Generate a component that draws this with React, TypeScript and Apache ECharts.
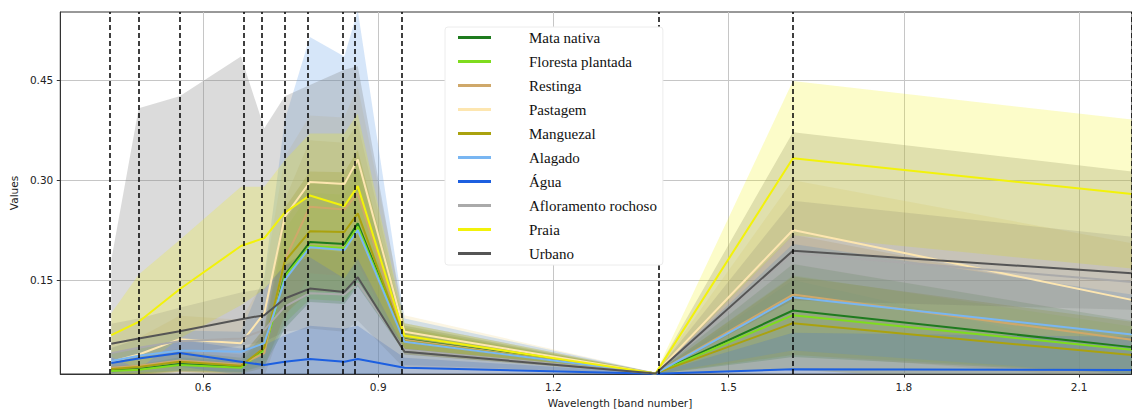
import React, { useEffect, useRef } from "react";
import * as echarts from "echarts";

// Sentinel-2 band centre wavelengths (µm)
const BANDS = [0.443, 0.49, 0.56, 0.665, 0.705, 0.74, 0.783, 0.842, 0.865, 0.945, 1.375, 1.61, 2.19];

const CLASSES = [
  "Mata nativa",
  "Floresta plantada",
  "Restinga",
  "Pastagem",
  "Manguezal",
  "Alagado",
  "Água",
  "Afloramento rochoso",
  "Praia",
  "Urbano",
];

// mean reflectance per band
const MATA_MEAN = [0.0146, 0.016, 0.0236, 0.0196, 0.046, 0.157, 0.207, 0.204, 0.235, 0.061, 0.0095, 0.104, 0.049];
const FLORESTA_MEAN = [0.013, 0.015, 0.022, 0.018, 0.044, 0.155, 0.201, 0.198, 0.23, 0.059, 0.0095, 0.097, 0.045];
const RESTINGA_MEAN = [0.018, 0.021, 0.029, 0.023, 0.04, 0.18, 0.26, 0.256, 0.28, 0.06, 0.0095, 0.128, 0.06];
const PASTAGEM_MEAN = [0.027, 0.038, 0.061, 0.055, 0.1, 0.245, 0.297, 0.294, 0.331, 0.072, 0.0095, 0.225, 0.12];
const MANGUEZAL_MEAN = [0.016, 0.019, 0.027, 0.021, 0.048, 0.178, 0.223, 0.222, 0.25, 0.058, 0.0095, 0.085, 0.037];
const ALAGADO_MEAN = [0.028, 0.036, 0.044, 0.042, 0.055, 0.15, 0.199, 0.195, 0.225, 0.057, 0.0095, 0.124, 0.068];
const AGUA_MEAN = [0.025, 0.032, 0.04, 0.027, 0.022, 0.027, 0.031, 0.027, 0.031, 0.018, 0.009, 0.0156, 0.0146];
const AFLORAMENTO_MEAN = [0.04, 0.048, 0.058, 0.062, 0.075, 0.11, 0.13, 0.128, 0.145, 0.045, 0.0095, 0.19, 0.147];
const PRAIA_MEAN = [0.067, 0.087, 0.136, 0.201, 0.213, 0.251, 0.277, 0.261, 0.291, 0.066, 0.0095, 0.333, 0.279];
const URBANO_MEAN = [0.054, 0.062, 0.073, 0.091, 0.097, 0.122, 0.137, 0.132, 0.154, 0.042, 0.0095, 0.194, 0.16];

// standard deviation per band
const MATA_STD = [0.006, 0.007, 0.01, 0.008, 0.025, 0.08, 0.09, 0.09, 0.095, 0.02, 0.001, 0.07, 0.04];
const FLORESTA_STD = [0.005, 0.006, 0.009, 0.007, 0.02, 0.07, 0.08, 0.08, 0.085, 0.018, 0.001, 0.06, 0.035];
const RESTINGA_STD = [0.012, 0.014, 0.018, 0.015, 0.035, 0.09, 0.1, 0.1, 0.105, 0.022, 0.001, 0.09, 0.06];
const PASTAGEM_STD = [0.02, 0.025, 0.035, 0.035, 0.05, 0.09, 0.1, 0.1, 0.11, 0.025, 0.001, 0.075, 0.085];
const MANGUEZAL_STD = [0.01, 0.012, 0.015, 0.012, 0.03, 0.08, 0.09, 0.09, 0.095, 0.02, 0.001, 0.07, 0.05];
const ALAGADO_STD = [0.02, 0.025, 0.03, 0.03, 0.1, 0.24, 0.316, 0.291, 0.33, 0.035, 0.001, 0.08, 0.06];
const AGUA_STD = [0.015, 0.015, 0.02, 0.02, 0.03, 0.04, 0.05, 0.05, 0.05, 0.015, 0.001, 0.055, 0.05];
const AFLORAMENTO_STD = [0.14, 0.36, 0.368, 0.424, 0.303, 0.316, 0.313, 0.338, 0.326, 0.04, 0.0015, 0.182, 0.166];
const PRAIA_STD = [0.033, 0.071, 0.074, 0.089, 0.077, 0.079, 0.093, 0.109, 0.109, 0.019, 0.001, 0.116, 0.112];
const URBANO_STD = [0.03, 0.03, 0.035, 0.04, 0.04, 0.05, 0.06, 0.06, 0.065, 0.025, 0.001, 0.075, 0.055];

const MEANS = [MATA_MEAN, FLORESTA_MEAN, RESTINGA_MEAN, PASTAGEM_MEAN, MANGUEZAL_MEAN, ALAGADO_MEAN, AGUA_MEAN, AFLORAMENTO_MEAN, PRAIA_MEAN, URBANO_MEAN];
const STDS = [MATA_STD, FLORESTA_STD, RESTINGA_STD, PASTAGEM_STD, MANGUEZAL_STD, ALAGADO_STD, AGUA_STD, AFLORAMENTO_STD, PRAIA_STD, URBANO_STD];

const X_TICKS = [0.6, 0.9, 1.2, 1.5, 1.8, 2.1];
const Y_TICKS = [0.15, 0.3, 0.45];

// styles
const LINE_COLORS = ["#1e7b1e", "#7fdc1e", "#cfa86a", "#fde6b0", "#aaa20e", "#79b6f2", "#1c5fe0", "#aaaaaa", "#f2f20a", "#555555"];
const FILL_COLORS = ["#2e8b1e", "#7fdc1e", "#cfa86a", "#f0d890", "#aaa20e", "#5f9ee8", "#3a78e0", "#7c7c7c", "#f2f20a", "#555555"];
const FILL_OPACITY = [0.3, 0.3, 0.28, 0.25, 0.32, 0.26, 0.28, 0.28, 0.22, 0.13];

const X_MIN = 0.3557;
const X_MAX = 2.1905;
const Y_MIN = 0.0086;
const Y_MAX = 0.5527;

const AXIS_FONT = "DejaVu Sans";

export default function App() {
  const ref = useRef<HTMLDivElement>(null);

  useEffect(() => {
    if (!ref.current) return;
    const chart = echarts.init(ref.current, undefined, { renderer: "svg" });

    const bandSeries = CLASSES.map((name, k) => ({
      type: "custom",
      id: "band-" + k,
      silent: true,
      clip: true,
      z: 1,
      data: [[BANDS[0], MEANS[k][0]]],
      renderItem: (params: any, api: any) => {
        const mean = MEANS[k];
        const std = STDS[k];
        const pts: number[][] = [];
        for (let i = 0; i < BANDS.length; i++) pts.push(api.coord([BANDS[i], mean[i] + std[i]]));
        for (let i = BANDS.length - 1; i >= 0; i--) pts.push(api.coord([BANDS[i], mean[i] - std[i]]));
        return {
          type: "polygon",
          shape: { points: pts },
          style: { fill: FILL_COLORS[k], opacity: FILL_OPACITY[k] },
          silent: true,
        };
      },
    }));

    const lineSeries = CLASSES.map((name, k) => ({
      type: "line",
      name,
      z: 3,
      showSymbol: false,
      symbol: "none",
      silent: true,
      color: LINE_COLORS[k],
      lineStyle: { color: LINE_COLORS[k], width: 2 },
      data: BANDS.map((b, i) => [b, MEANS[k][i]]),
    }));

    const markSeries = {
      type: "line",
      id: "band-markers",
      z: 5,
      silent: true,
      data: [],
      markLine: {
        silent: true,
        symbol: ["none", "none"],
        label: { show: false },
        lineStyle: { color: "#000", type: [5, 3], width: 1.5 },
        data: BANDS.map((b) => ({ xAxis: b })),
      },
    };

    chart.setOption({
      animation: false,
      textStyle: { fontFamily: AXIS_FONT },
      grid: {
        left: 58,
        right: 0,
        top: 12,
        bottom: 35,
        show: true,
        borderColor: "#333",
        borderWidth: 1,
        backgroundColor: "transparent",
      },
      graphic: [
        {
          type: "text",
          x: 620,
          y: 403,
          silent: true,
          style: {
            text: "Wavelength [band number]",
            fontFamily: AXIS_FONT,
            fontSize: 10.5,
            fill: "#222",
            textAlign: "center",
            textVerticalAlign: "middle",
          },
        },
      ],
      legend: {
        z: 20,
        left: 445,
        top: 27,
        orient: "vertical",
        selectedMode: false,
        icon: "rect",
        itemWidth: 33,
        itemHeight: 3,
        itemGap: 9,
        padding: [3, 6, 4, 13],
        backgroundColor: "#ffffff",
        borderColor: "#ececec",
        borderWidth: 1,
        borderRadius: 3,
        textStyle: {
          fontFamily: "Liberation Serif",
          fontSize: 15,
          lineHeight: 15,
          color: "#111",
          padding: [0, 0, 0, 33],
        },
        data: CLASSES.map((n, k) => ({ name: n, itemStyle: { color: LINE_COLORS[k] } })),
      },
      xAxis: {
        type: "value",
        min: X_MIN,
        max: X_MAX,
        axisLine: { show: true, lineStyle: { color: "#333", width: 1 } },
        axisTick: { show: true, length: 3.5, customValues: X_TICKS, lineStyle: { color: "#333" } },
        axisLabel: {
          customValues: X_TICKS,
          margin: 7,
          fontSize: 10.5,
          color: "#222",
          fontFamily: AXIS_FONT,
          formatter: (v: number) => v.toFixed(1),
        },
        splitLine: { show: true, lineStyle: { color: "#c6c6c6", width: 1 } },
      },
      yAxis: {
        type: "value",
        min: Y_MIN,
        max: Y_MAX,
        name: "Values",
        nameLocation: "middle",
        nameGap: 38,
        nameTextStyle: { fontFamily: AXIS_FONT, fontSize: 10.5, color: "#222" },
        axisLine: { show: true, lineStyle: { color: "#333", width: 1 } },
        axisTick: { show: true, length: 3.5, customValues: Y_TICKS, lineStyle: { color: "#333" } },
        axisLabel: {
          customValues: Y_TICKS,
          margin: 7,
          fontSize: 10.5,
          color: "#222",
          fontFamily: AXIS_FONT,
          formatter: (v: number) => v.toFixed(2),
        },
        splitLine: { show: true, lineStyle: { color: "#c6c6c6", width: 1 } },
      },
      series: [...bandSeries, ...lineSeries, markSeries],
    });

    return () => chart.dispose();
  }, []);

  return (
    <div
      ref={ref}
      style={{ position: "absolute", left: 0, top: 0, width: 1132, height: 409, background: "#fff" }}
    />
  );
}
